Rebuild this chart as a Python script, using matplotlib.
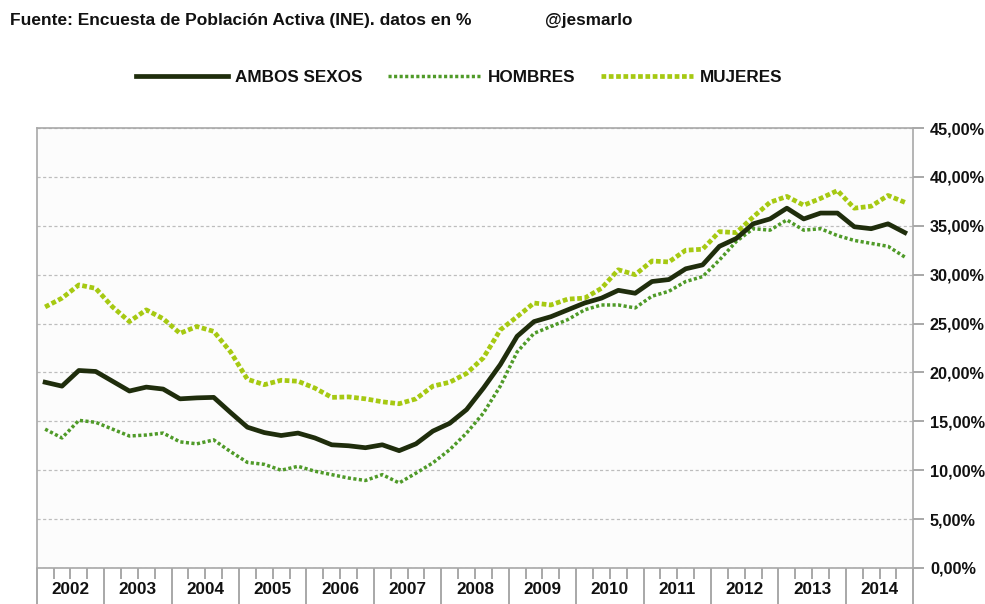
import numpy as np
import matplotlib
matplotlib.use("Agg")
import matplotlib.pyplot as plt
from matplotlib.ticker import FuncFormatter, FixedLocator
import matplotlib.transforms as mtransforms

plt.rcParams['font.family'] = ['Liberation Sans', 'DejaVu Sans']

years = [str(y) for y in range(2002, 2015)]
series_names = ["AMBOS SEXOS", "HOMBRES", "MUJERES"]

ambos = [19.0, 18.6, 20.2, 20.1, 19.1, 18.1, 18.5, 18.3, 17.3, 17.4, 17.45, 15.9,
         14.4, 13.85, 13.55, 13.8, 13.3, 12.6, 12.5, 12.3, 12.6, 12.0, 12.7, 14.0,
         14.8, 16.2, 18.4, 20.8, 23.7, 25.2, 25.7, 26.4, 27.1, 27.6, 28.4, 28.1,
         29.3, 29.5, 30.6, 31.0, 32.9, 33.7, 35.2, 35.7, 36.8, 35.7, 36.3, 36.3,
         34.9, 34.7, 35.2, 34.3]
hombres = [14.2, 13.3, 15.1, 14.9, 14.2, 13.5, 13.6, 13.8, 12.9, 12.7, 13.1, 11.9,
           10.8, 10.6, 10.0, 10.4, 9.9, 9.55, 9.2, 8.95, 9.55, 8.7, 9.7, 10.75,
           12.1, 13.8, 15.85, 18.6, 22.1, 24.0, 24.7, 25.4, 26.4, 26.9, 26.9, 26.6,
           27.8, 28.3, 29.3, 29.8, 31.5, 33.4, 34.7, 34.55, 35.6, 34.55, 34.7, 34.0,
           33.5, 33.2, 32.9, 31.8]
mujeres = [26.7, 27.6, 28.95, 28.6, 26.7, 25.2, 26.4, 25.5, 24.0, 24.7, 24.2, 22.1,
           19.3, 18.75, 19.2, 19.1, 18.4, 17.45, 17.5, 17.3, 17.0, 16.8, 17.3, 18.6,
           19.0, 19.9, 21.5, 24.35, 25.7, 27.1, 26.9, 27.5, 27.6, 28.6, 30.5, 30.0,
           31.4, 31.3, 32.5, 32.6, 34.4, 34.3, 35.9, 37.4, 38.0, 37.1, 37.8, 38.6,
           36.8, 37.0, 38.1, 37.4]

n = len(ambos)
x = np.arange(n) + 0.5

fig = plt.figure(figsize=(9.85, 6.04), dpi=100)
fig.patch.set_facecolor('white')
ax = fig.add_axes([36.7/985, 1-568/604, (913.3-36.7)/985, (568-128)/604])
ax.set_facecolor('#fcfcfc')

c_ambos = '#1f2d0c'
c_homb = '#4f9a28'
c_muj = '#a6c912'

l1, = ax.plot(x, ambos, color=c_ambos, lw=3.4, solid_joinstyle='round', zorder=5,
              label=series_names[0])
l2, = ax.plot(x, hombres, color=c_homb, lw=2.5, dashes=(0.9, 0.7), zorder=4,
              label=series_names[1])
l3, = ax.plot(x, mujeres, color=c_muj, lw=3.4, dashes=(1.0, 0.55), zorder=3,
              label=series_names[2])

ax.set_xlim(0, n)
ax.set_ylim(0, 45)

# y axis on the right
ax.yaxis.tick_right()
ax.set_yticks(np.arange(0, 46, 5))
ax.yaxis.set_major_formatter(FuncFormatter(lambda v, p: f"{v:.2f}".replace('.', ',') + "%"))
ax.tick_params(axis='y', which='major', direction='out', length=8, width=1.2,
               color='#9a9a9a', pad=4, labelsize=11.7, labelcolor='#111111')
for lab in ax.get_yticklabels():
    lab.set_fontweight('bold')
ax.grid(axis='y', color='#bdbdbd', lw=0.9, ls=(0, (2.5, 2.0)))
ax.set_axisbelow(True)

# x axis: year boundaries and quarter boundaries
ax.xaxis.set_major_locator(FixedLocator(np.arange(0, n + 1, 4)))
ax.xaxis.set_minor_locator(FixedLocator([i for i in range(1, n) if i % 4 != 0]))
ax.tick_params(axis='x', which='major', direction='out', length=30, width=1.2,
               color='#9a9a9a', labelbottom=False)
ax.tick_params(axis='x', which='minor', direction='out', length=8, width=1.2,
               color='#9a9a9a')
trans = mtransforms.blended_transform_factory(ax.transData, ax.transAxes)
for k, yr in enumerate(years):
    ax.text(4 * k + 2, -22/440, yr, transform=trans, ha='center', va='center',
            fontsize=12.3, fontweight='bold', color='#111111')

for s in ['left', 'top', 'right', 'bottom']:
    ax.spines[s].set_color('#a8a8a8')
    ax.spines[s].set_linewidth(1.2)

# header texts
fig.text(10/985, 1-20/604, "Fuente: Encuesta de Población Activa (INE). datos en %",
         ha='left', va='center', fontsize=12.5, fontweight='bold', color='#111111')
fig.text(545/985, 1-20/604, "@jesmarlo", ha='left', va='center', fontsize=12.3,
         fontweight='bold', color='#111111')

leg = ax.legend(handles=[l1, l2, l3], loc='center', ncol=3,
                bbox_to_anchor=(459/985, 1-77/604), bbox_transform=fig.transFigure,
                frameon=False, handlelength=5.4, handletextpad=0.42,
                columnspacing=1.5, prop={'size': 12.3, 'weight': 'bold'})
for t in leg.get_texts():
    t.set_color('#111111')

fig.savefig('out.png', dpi=100, facecolor='white')
